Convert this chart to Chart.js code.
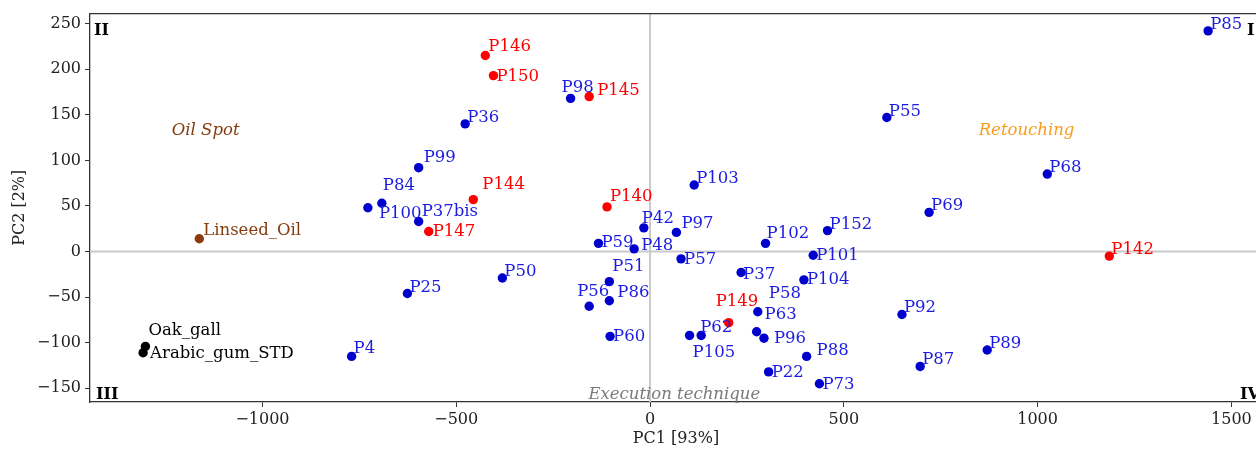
<!DOCTYPE html>
<html>
<head>
<meta charset="utf-8">
<script src="https://cdn.jsdelivr.net/npm/chart.js@4.4.1/dist/chart.umd.min.js"></script>
<style>
  html, body { margin: 0; padding: 0; overflow: hidden; background: #fff; }
  #wrap { width: 1300px; height: 450px; }
</style>
</head>
<body>
<div id="wrap"><canvas id="pcaChart"></canvas></div>
<script>
// PCA scores
var sampleNames = ['P85', 'P55', 'P68', 'P69', 'P152', 'P101', 'P104', 'P92', 'P89', 'P87',
  'P88', 'P73', 'P22', 'P58', 'P63', 'P96', 'P37', 'P57', 'P48', 'P59',
  'P42', 'P97', 'P102', 'P103', 'P51', 'P86', 'P56', 'P60', 'P62', 'P105',
  'P50', 'P25', 'P4', 'P36', 'P98', 'P99', 'P84', 'P100', 'P37bis'];
var sampleX = [1440, 611, 1025, 720, 458, 421, 397, 650, 870, 697,
  404, 437, 306, 278, 275, 294, 235, 80, -41, -133,
  -16, 68, 298, 114, -105, -105, -157, -103, 132, 102,
  -381, -626, -770, -477, -205, -597, -692, -728, -597];
var sampleY = [242, 147, 85, 43, 23, -4, -31, -69, -108, -126,
  -115, -145, -132, -66, -88, -95, -23, -8, 3, 9,
  26, 21, 9, 73, -33, -54, -60, -93, -92, -92,
  -29, -46, -115, 140, 168, 92, 53, 48, 33];

var redNames = ['P146', 'P150', 'P145', 'P144', 'P140', 'P147', 'P149', 'P142'];
var redX = [-425, -404, -157, -456, -111, -571, 203, 1185];
var redY = [215, 193, 170, 57, 49, 22, -78, -5];

var oilNames = ['Linseed_Oil'];
var oilX = [-1163];
var oilY = [14];

var stdNames = ['Oak_gall', 'Arabic_gum_STD'];
var stdX = [-1302, -1308];
var stdY = [-104, -111];

var xTicks = [-1000, -500, 0, 500, 1000, 1500];
var yTicks = [-150, -100, -50, 0, 50, 100, 150, 200, 250];

// label nudges in pixels (text left / baseline relative to the dot)
var labelShift = {
  P146: [3, -5], P150: [3, 5], P145: [8, -2], P98: [-9, -6], P99: [5, -6],
  P84: [1, -13], P100: [11, 10], P37bis: [3, -5], P147: [4, 4], P144: [9, -11],
  P140: [3, -6], P42: [-2, -5], P97: [5, -4], P102: [1, -5], P59: [3, 4],
  P48: [7, 1], P57: [3, 5], P101: [3, 5], P104: [3, 4], P37: [2, 6],
  P51: [3, -11], P56: [-12, -10], P86: [8, -4], P60: [3, 5], P62: [-1, -3],
  P105: [3, 22], P149: [-13, -17], P58: [11, -14], P63: [8, -13], P96: [10, 5],
  P22: [3, 5], P88: [10, -1], P73: [3, 5], P4: [2, -3],
  Linseed_Oil: [4, -4], Oak_gall: [3, -11], Arabic_gum_STD: [7, 5]
};

var serif = '"DejaVu Serif", serif';

function toPoints(xs, ys) {
  return xs.map(function(x, i) { return { x: x, y: ys[i] }; });
}

var pcaDecor = {
  id: 'pcaDecor',
  beforeDatasetsDraw: function(chart) {
    var ctx = chart.ctx, a = chart.chartArea;
    var x0 = chart.scales.x.getPixelForValue(0);
    var y0 = chart.scales.y.getPixelForValue(0);
    ctx.save();
    ctx.strokeStyle = '#cacaca';
    ctx.lineWidth = 2;
    ctx.beginPath();
    ctx.moveTo(x0, a.top); ctx.lineTo(x0, a.bottom);
    ctx.moveTo(a.left, y0); ctx.lineTo(a.right, y0);
    ctx.stroke();
    ctx.strokeStyle = '#333';
    ctx.lineWidth = 1.3;
    ctx.beginPath();
    ctx.moveTo(a.left, a.top); ctx.lineTo(a.right, a.top); ctx.lineTo(a.right, a.bottom);
    ctx.stroke();
    ctx.restore();
  },
  afterDatasetsDraw: function(chart) {
    var ctx = chart.ctx, a = chart.chartArea;
    var sx = chart.scales.x, sy = chart.scales.y;
    ctx.save();
    ctx.textAlign = 'left';
    ctx.textBaseline = 'alphabetic';
    ctx.font = '16.5px ' + serif;
    chart.data.datasets.forEach(function(ds, i) {
      var meta = chart.getDatasetMeta(i);
      ctx.fillStyle = ds.labelColor;
      meta.data.forEach(function(el, j) {
        var name = ds.names[j];
        var d = labelShift[name] || [2, -2];
        ctx.fillText(name, el.x + d[0], el.y + d[1]);
      });
    });

    // group notes
    ctx.font = 'italic 16.5px ' + serif;
    ctx.fillStyle = '#843c0c';
    ctx.fillText('Oil Spot', sx.getPixelForValue(-1234), sy.getPixelForValue(128));
    ctx.fillStyle = '#f99d1c';
    ctx.fillText('Retouching', sx.getPixelForValue(848), sy.getPixelForValue(128));
    ctx.fillStyle = '#7a7a7a';
    ctx.fillText('Execution technique', sx.getPixelForValue(-159), sy.getPixelForValue(-161.5));

    // quadrants
    ctx.font = 'bold 16px ' + serif;
    ctx.fillStyle = '#000';
    ctx.fillText('II', a.left + 4, a.top + 21);
    ctx.fillText('I', a.right - 15, a.top + 21);
    ctx.fillText('III', a.left + 6, a.bottom - 3);
    ctx.fillText('IV', a.right - 22, a.bottom - 3);
    ctx.restore();
  }
};

var ctx = document.getElementById('pcaChart').getContext('2d');
var chart = new Chart(ctx, {
  type: 'scatter',
  data: {
    datasets: [
      { names: sampleNames, data: toPoints(sampleX, sampleY), backgroundColor: '#0000cd', labelColor: '#1c1ce0' },
      { names: redNames, data: toPoints(redX, redY), backgroundColor: '#ff0000', labelColor: '#ff0000' },
      { names: oilNames, data: toPoints(oilX, oilY), backgroundColor: '#8b3a0a', labelColor: '#843c0c' },
      { names: stdNames, data: toPoints(stdX, stdY), backgroundColor: '#000000', labelColor: '#000000' }
    ]
  },
  options: {
    responsive: true,
    maintainAspectRatio: false,
    animation: false,
    elements: { point: { radius: 4.7, borderWidth: 0, hoverRadius: 4.7 } },
    layout: { padding: { top: 12, right: 38, left: 0, bottom: 0 } },
    plugins: { legend: { display: false }, tooltip: { enabled: false } },
    scales: {
      x: {
        type: 'linear',
        min: -1445,
        max: 1579,
        afterBuildTicks: function(scale) {
          scale.ticks = xTicks.map(function(v) { return { value: v }; });
        },
        afterFit: function(scale) { scale.height = 48; },
        grid: { drawOnChartArea: false, drawTicks: true, tickLength: 5, color: '#333' },
        border: { display: true, color: '#333', width: 1.3 },
        ticks: {
          color: '#222', padding: 3,
          font: { family: serif, size: 16 },
          callback: function(v) { return String(v).replace('-', '\u2212'); }
        },
        title: { display: true, text: 'PC1 [93%]', color: '#222', font: { family: serif, size: 16 }, padding: { top: 0, bottom: 2 } }
      },
      y: {
        type: 'linear',
        min: -165,
        max: 261,
        afterBuildTicks: function(scale) {
          scale.ticks = yTicks.map(function(v) { return { value: v }; });
        },
        afterFit: function(scale) { scale.width = 90; },
        grid: { drawOnChartArea: false, drawTicks: true, tickLength: 5, color: '#333' },
        border: { display: true, color: '#333', width: 1.3 },
        ticks: {
          color: '#222', padding: 4,
          font: { family: serif, size: 16 },
          callback: function(v) { return String(v).replace('-', '\u2212'); }
        },
        title: { display: true, text: 'PC2 [2%]', color: '#222', font: { family: serif, size: 16 }, padding: { top: 10, bottom: 0 } }
      }
    }
  },
  plugins: [pcaDecor]
});
</script>
</body>
</html>
